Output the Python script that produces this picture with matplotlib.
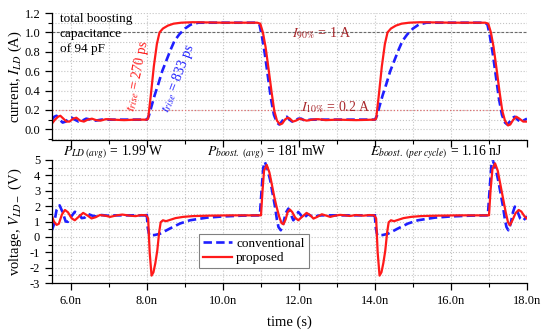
import matplotlib
matplotlib.use("Agg")
import matplotlib.pyplot as plt
from matplotlib.ticker import MultipleLocator, FuncFormatter

plt.rcParams["font.family"] = ["Liberation Serif", "DejaVu Serif"]
plt.rcParams["mathtext.fontset"] = "stix"

# time axis in ns
# current I_LD, proposed (red)
t_cur_prop = [5.50, 5.58, 5.66, 5.72, 5.80, 5.88, 5.96, 6.06, 6.14, 6.24, 6.34, 6.44,
              6.55, 6.66, 6.78, 6.92, 7.10, 7.40, 7.70, 8.00,
              8.03, 8.10, 8.18, 8.26, 8.33, 8.42, 8.55, 8.70, 8.90, 9.20, 10.00, 10.90,
              10.98, 11.05, 11.12, 11.20, 11.28, 11.35, 11.42, 11.50, 11.56, 11.63, 11.70,
              11.76, 11.84, 11.92, 12.02, 12.10, 12.20, 12.35, 12.50, 12.70, 13.00, 13.50, 14.00,
              14.03, 14.10, 14.18, 14.26, 14.33, 14.42, 14.55, 14.70, 14.90, 15.20, 16.00, 16.90,
              16.98, 17.05, 17.12, 17.20, 17.28, 17.35, 17.42, 17.50, 17.56, 17.64, 17.72,
              17.80, 17.90, 18.00]
i_prop = [0.06, 0.10, 0.13, 0.14, 0.11, 0.08, 0.08, 0.11, 0.12, 0.09, 0.08, 0.10,
          0.11, 0.095, 0.09, 0.105, 0.10, 0.095, 0.10, 0.10,
          0.11, 0.35, 0.65, 0.88, 1.00, 1.04, 1.07, 1.09, 1.10, 1.105, 1.10, 1.10,
          1.09, 1.00, 0.85, 0.62, 0.38, 0.19, 0.09, 0.05, 0.06, 0.10, 0.12,
          0.11, 0.08, 0.09, 0.11, 0.10, 0.09, 0.10, 0.105, 0.095, 0.10, 0.095, 0.10,
          0.11, 0.35, 0.65, 0.88, 1.00, 1.04, 1.07, 1.09, 1.10, 1.105, 1.10, 1.10,
          1.09, 1.00, 0.85, 0.62, 0.38, 0.19, 0.09, 0.04, 0.05, 0.10, 0.13,
          0.11, 0.08, 0.08]

# current I_LD, conventional (blue)
t_cur_conv = [5.50, 5.56, 5.62, 5.70, 5.78, 5.86, 5.94, 6.02, 6.10, 6.20, 6.30, 6.40,
              6.52, 6.65, 6.80, 7.00, 8.00,
              8.05, 8.12, 8.20, 8.30, 8.40, 8.52, 8.62, 8.72, 8.85, 9.00, 9.15, 9.35, 9.60, 10.90,
              10.96, 11.02, 11.10, 11.18, 11.26, 11.34, 11.42, 11.48, 11.55, 11.62, 11.68,
              11.75, 11.82, 11.90, 11.98, 12.06, 12.15, 12.30, 12.50, 14.00,
              14.05, 14.12, 14.20, 14.30, 14.40, 14.52, 14.62, 14.72, 14.85, 15.00, 15.15, 15.35,
              15.60, 16.90, 16.96, 17.02, 17.10, 17.18, 17.26, 17.34, 17.42, 17.48, 17.55,
              17.62, 17.68, 17.75, 17.82, 17.90, 18.00]
i_conv = [0.10, 0.13, 0.14, 0.10, 0.07, 0.08, 0.11, 0.12, 0.10, 0.08, 0.09, 0.11,
          0.10, 0.09, 0.10, 0.10, 0.10,
          0.14, 0.24, 0.35, 0.47, 0.60, 0.72, 0.82, 0.91, 0.98, 1.04, 1.08, 1.10, 1.10, 1.10,
          1.08, 0.97, 0.78, 0.55, 0.32, 0.15, 0.07, 0.05, 0.08, 0.12, 0.13,
          0.10, 0.08, 0.09, 0.11, 0.11, 0.09, 0.10, 0.10, 0.10,
          0.14, 0.24, 0.35, 0.47, 0.60, 0.72, 0.82, 0.91, 0.98, 1.04, 1.08, 1.10,
          1.10, 1.10, 1.08, 0.97, 0.78, 0.55, 0.32, 0.15, 0.07, 0.05, 0.08,
          0.12, 0.13, 0.10, 0.08, 0.09, 0.11]

# voltage V_LD-, proposed (red)
t_volt_prop = [5.50, 5.55, 5.62, 5.68, 5.76, 5.84, 5.92, 6.02, 6.10, 6.20, 6.32, 6.44,
               6.54, 6.65, 6.76, 6.90, 7.03, 7.20, 7.35, 7.55, 7.70, 7.85, 7.98,
               8.03, 8.07, 8.12, 8.17, 8.22, 8.27, 8.32, 8.36, 8.42, 8.50, 8.60, 8.75, 8.95,
               9.20, 9.60, 10.20, 10.95,
               11.00, 11.04, 11.08, 11.15, 11.22, 11.28, 11.35, 11.41, 11.48, 11.54, 11.59,
               11.65, 11.70, 11.76, 11.82, 11.90, 11.98, 12.08, 12.20, 12.30, 12.38, 12.48,
               12.60, 12.72, 12.82, 12.95, 13.08, 13.22, 13.34, 13.50, 13.70, 13.85, 13.98,
               14.03, 14.07, 14.12, 14.17, 14.22, 14.27, 14.32, 14.36, 14.42, 14.50, 14.60,
               14.75, 14.95, 15.20, 15.60, 16.20, 16.95,
               17.00, 17.04, 17.09, 17.16, 17.23, 17.30, 17.37, 17.44, 17.50, 17.55, 17.62,
               17.70, 17.78, 17.85, 17.93, 18.00]
v_prop = [1.35, 1.00, 0.78, 0.85, 1.45, 1.75, 1.60, 1.20, 1.08, 1.30, 1.56, 1.38,
          1.20, 1.28, 1.42, 1.38, 1.30, 1.40, 1.45, 1.38, 1.35, 1.42, 1.40,
          1.20, -1.00, -2.52, -2.30, -1.70, -0.90, 0.30, 0.95, 1.08, 1.02, 1.10, 1.22, 1.30,
          1.35, 1.38, 1.40, 1.40,
          1.40, 3.00, 4.30, 4.68, 4.20, 3.48, 2.60, 1.95, 1.30, 0.90, 0.82,
          1.15, 1.60, 1.78, 1.62, 1.25, 1.08, 1.30, 1.56, 1.40, 1.19, 1.30,
          1.47, 1.38, 1.30, 1.38, 1.43, 1.40, 1.36, 1.42, 1.38, 1.42, 1.40,
          1.20, -1.00, -2.52, -2.30, -1.70, -0.90, 0.30, 0.95, 1.08, 1.02, 1.10,
          1.22, 1.30, 1.35, 1.38, 1.40, 1.40,
          1.40, 3.00, 4.40, 4.78, 4.30, 3.40, 2.50, 1.60, 0.95, 0.75, 1.10,
          1.55, 1.75, 1.65, 1.35, 1.19]

# voltage V_LD-, conventional (blue)
t_volt_conv = [5.50, 5.55, 5.62, 5.70, 5.78, 5.86, 5.92, 6.00, 6.10, 6.20, 6.28, 6.36,
               6.46, 6.56, 6.68, 6.80, 6.95, 7.20, 7.97,
               7.99, 8.02, 8.06, 8.20, 8.34, 8.60, 8.87, 9.13, 9.57, 10.00, 10.50, 10.97,
               11.02, 11.06, 11.10, 11.16, 11.24, 11.30, 11.37, 11.42, 11.46, 11.52, 11.58,
               11.65, 11.72, 11.78, 11.85, 11.92, 11.98, 12.04, 12.11, 12.18, 12.24, 12.32,
               12.41, 12.50, 12.60, 13.98,
               13.99, 14.02, 14.06, 14.20, 14.34, 14.60, 14.87, 15.13, 15.57, 16.00, 16.50, 16.97,
               17.02, 17.06, 17.10, 17.16, 17.24, 17.30, 17.37, 17.42, 17.46, 17.51, 17.57,
               17.63, 17.68, 17.74, 17.82, 17.90, 18.00]
v_conv = [0.45, 0.80, 1.75, 2.05, 1.60, 1.00, 0.98, 1.30, 1.63, 1.55, 1.22, 1.25,
          1.48, 1.38, 1.32, 1.42, 1.38, 1.40, 1.40,
          1.62, 0.60, 0.10, 0.12, 0.20, 0.54, 0.87, 1.08, 1.25, 1.33, 1.38, 1.40,
          3.20, 4.50, 4.88, 4.50, 3.70, 2.90, 1.95, 1.10, 0.64, 0.43, 0.80,
          1.55, 1.84, 1.50, 1.08, 1.30, 1.62, 1.45, 1.19, 1.35, 1.47, 1.36,
          1.30, 1.38, 1.40, 1.40,
          1.60, 0.60, 0.10, 0.12, 0.20, 0.54, 0.87, 1.08, 1.25, 1.33, 1.38, 1.40,
          3.20, 4.60, 4.95, 4.60, 3.70, 2.90, 1.95, 1.10, 0.64, 0.43, 0.85,
          1.60, 1.97, 1.70, 1.20, 1.05, 1.35]

RED = "#ff1a1a"
BLUE = "#1f1fff"
DARKRED = "#a8282c"
W, H = 550, 334


def px(x, y):
    return x / W, 1 - y / H


def style_axes(ax, ymaj, ymin):
    ax.set_xlim(5.5, 18.0)
    ax.xaxis.set_major_locator(MultipleLocator(2))
    ax.xaxis.set_minor_locator(MultipleLocator(1))
    ax.yaxis.set_major_locator(MultipleLocator(ymaj))
    ax.yaxis.set_minor_locator(MultipleLocator(ymin))
    for s in ("top", "right"):
        ax.spines[s].set_visible(False)
    for s in ("left", "bottom"):
        ax.spines[s].set_linewidth(0.9)
    ax.tick_params(which="major", direction="out", length=5, width=0.9, labelsize=9)
    ax.tick_params(which="minor", direction="out", length=3, width=0.8)
    ax.grid(which="both", color="#c4c4c4", linestyle=":", linewidth=0.8)
    ax.set_axisbelow(True)


fig = plt.figure(figsize=(5.5, 3.34), dpi=100)
ax1 = fig.add_axes([52 / W, 1 - 140 / H, 475 / W, 127 / H])
ax2 = fig.add_axes([52 / W, 1 - 283 / H, 475 / W, 123 / H])

# current
style_axes(ax1, 0.2, 0.1)
ax1.set_ylim(-0.11, 1.2)
ax1.tick_params(axis="x", labelbottom=False)
ax1.axhline(0.2, color="#e07070", linestyle=":", linewidth=0.9)
ax1.axhline(1.0, color="#6a6a6a", linestyle=(0, (2.5, 1.5)), linewidth=0.8)
ax1.plot(t_cur_conv, i_conv, color=BLUE, linewidth=1.9, linestyle=(0, (3.2, 1.6)))
ax1.plot(t_cur_prop, i_prop, color=RED, linewidth=1.6)
ax1.yaxis.set_major_formatter(FuncFormatter(lambda v, p: f"{v:.1f}"))
ax1.set_ylabel("current, $I_{LD}$ (A)", fontsize=10.5)
ax1.yaxis.set_label_coords(-0.058, 0.5)

# voltage
style_axes(ax2, 1, 0.5)
ax2.set_ylim(-3, 5)
ax2.plot(t_volt_conv, v_conv, color=BLUE, linewidth=1.9, linestyle=(0, (3.2, 1.6)),
         label="conventional")
ax2.plot(t_volt_prop, v_prop, color=RED, linewidth=1.6, label="proposed")
ax2.xaxis.set_major_formatter(FuncFormatter(lambda v, p: f"{v:.1f}n"))
ax2.yaxis.set_major_formatter(FuncFormatter(lambda v, p: f"{v:.0f}"))
ax2.set_ylabel("voltage, $V_{LD\u2212}$ (V)", fontsize=10.5)
ax2.yaxis.set_label_coords(-0.058, 0.5)
ax2.set_xlabel("time (s)", fontsize=10.5, labelpad=6)
leg = ax2.legend(loc="lower left", bbox_to_anchor=(0.31, 0.12), fontsize=9.5,
                 frameon=True, fancybox=False, framealpha=1, edgecolor="#808080",
                 borderaxespad=0, handlelength=2.2, handletextpad=0.3,
                 borderpad=0.3, labelspacing=0.15)
leg.get_frame().set_linewidth(0.8)

# annotations
fig.text(*px(60, 34), "total boosting\ncapacitance\nof 94 pF", fontsize=9.5,
         ha="left", va="center", linespacing=1.3)
fig.text(*px(138, 76), "$t_{rise}$ = 270 ps", color=RED, fontsize=10,
         rotation=79, ha="center", va="center", rotation_mode="anchor")
fig.text(*px(178, 78), "$t_{rise}$ = 833 ps", color=BLUE, fontsize=10,
         rotation=69, ha="center", va="center", rotation_mode="anchor")
fig.text(*px(292, 34), "$I_{90\\%}$ = 1 A", color=DARKRED, fontsize=10,
         ha="left", va="center")
fig.text(*px(301, 107), "$I_{10\\%}$ = 0.2 A", color=DARKRED, fontsize=10,
         ha="left", va="center")
fig.text(*px(63, 152), "$P_{LD\\ (avg)}$ = 1.99 W", fontsize=9.8, ha="left", va="center")
fig.text(*px(207, 152), "$P_{boost.\\ (avg)}$ = 181 mW", fontsize=9.8, ha="left", va="center")
fig.text(*px(370, 152), "$E_{boost.\\ (per\\ cycle)}$ = 1.16 nJ", fontsize=9.8,
         ha="left", va="center")

fig.savefig("out.png", dpi=100)
